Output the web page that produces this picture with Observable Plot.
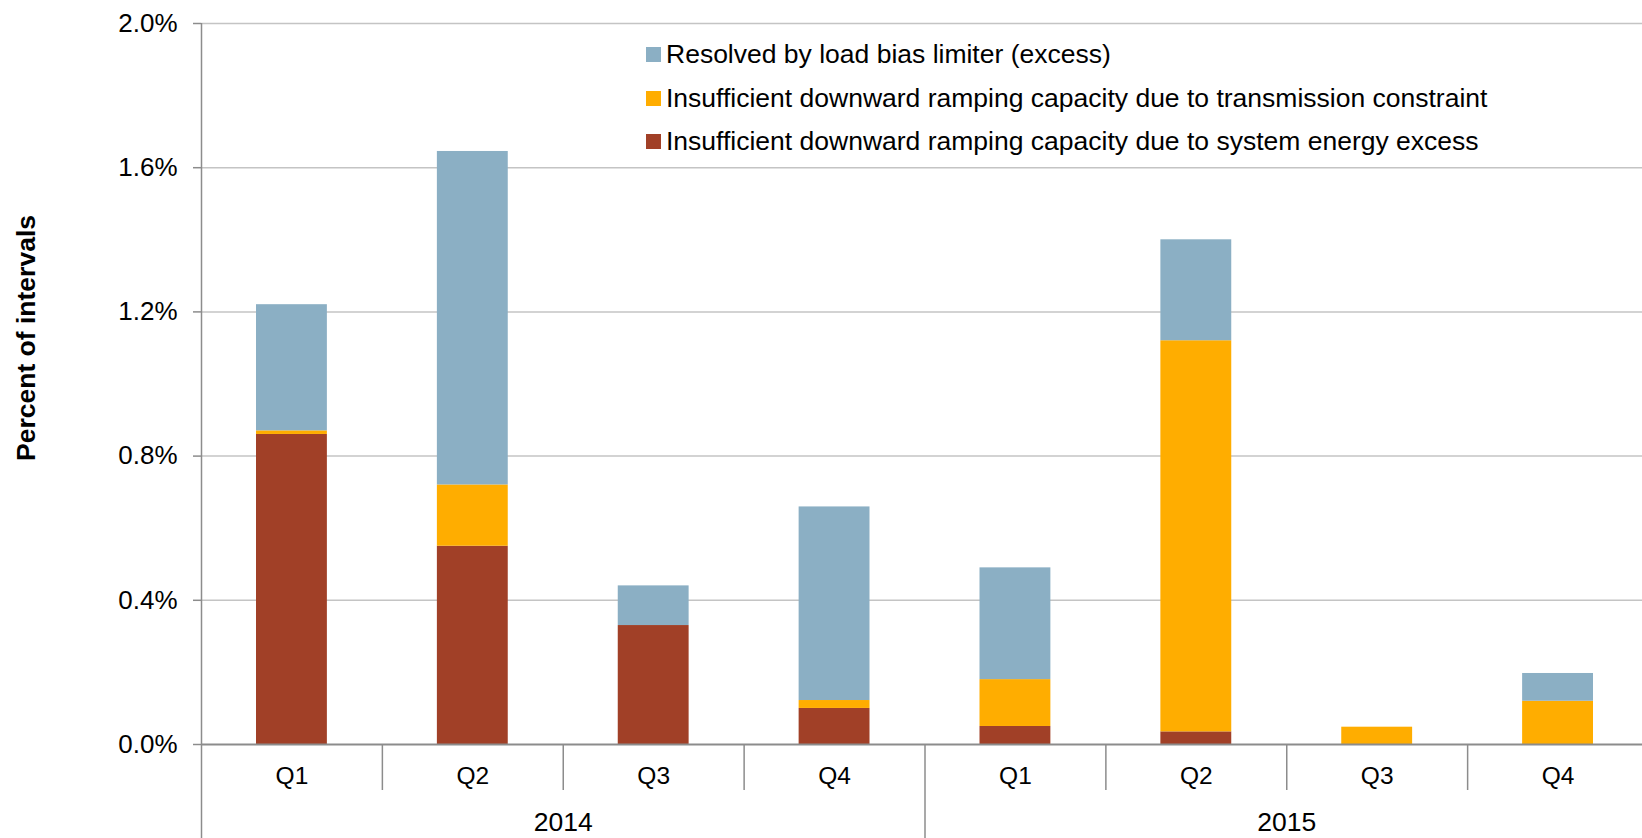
<!DOCTYPE html>
<html>
<head>
<meta charset="utf-8">
<script src="https://cdn.jsdelivr.net/npm/d3@7"></script>
<script src="https://cdn.jsdelivr.net/npm/@observablehq/plot@0.6"></script>
<style>
  html, body { margin: 0; padding: 0; background: #fff; }
  #wrap { position: relative; width: 1642px; height: 838px; font-family: "Liberation Sans", Arial, sans-serif; }
  #ylabel { position: absolute; left: 26px; top: 338px; transform: translate(-50%, -50%) rotate(-90deg); font-weight: bold; font-size: 26.5px; white-space: nowrap; color: #000; }
  #legend { position: absolute; left: 646px; top: 33px; font-size: 26.5px; color: #000; }
  .row { display: flex; align-items: center; height: 43.5px; white-space: nowrap; }
  .sw { width: 15px; height: 15px; margin-right: 5px; flex: none; }
</style>
</head>
<body>
<div id="wrap">
  <div id="chart"></div>
  <div id="ylabel"></div>
  <div id="legend"></div>
</div>
<script>
// ---- data ----
const quarters = ["Q1", "Q2", "Q3", "Q4", "Q1", "Q2", "Q3", "Q4"];
const years = ["2014", "2015"];
const seriesNames = [
  "Insufficient downward ramping capacity due to system energy excess",
  "Insufficient downward ramping capacity due to transmission constraint",
  "Resolved by load bias limiter (excess)"
];
const seriesColors = ["#a14027", "#ffad00", "#8bafc4"];
const systemExcess   = [0.86, 0.55, 0.33, 0.10, 0.05, 0.035, 0.0, 0.0];
const transmission   = [0.01, 0.17, 0.0, 0.022, 0.13, 1.085, 0.048, 0.12];
const loadBias       = [0.35, 0.925, 0.11, 0.537, 0.31, 0.28, 0.0, 0.077];
const yTicks = [0, 0.4, 0.8, 1.2, 1.6, 2.0];
const yLabel = "Percent of intervals";
const legendOrder = [2, 1, 0];

// ---- table ----
const seriesValues = [systemExcess, transmission, loadBias];
const table = [];
quarters.forEach((q, i) => {
  seriesValues.forEach((vals, s) => {
    table.push({i, quarter: q, year: years[Math.floor(i / 4)], series: seriesNames[s], value: vals[i]});
  });
});

const font = "'Liberation Sans', Arial, sans-serif";
const axisGray = "#8c8c8c";

const plot = Plot.plot({
  width: 1642,
  height: 838,
  marginTop: 23,
  marginBottom: 94,
  marginLeft: 201,
  marginRight: -6,
  style: {fontFamily: font, fontSize: "26px", color: "#000", background: "#fff"},
  x: {type: "linear", domain: [0, quarters.length]},
  y: {domain: [0, 2.0], label: null},
  color: {domain: seriesNames, range: seriesColors},
  marks: [
    Plot.gridY({ticks: yTicks.filter(t => t > 0), stroke: "#c4c4c4", strokeOpacity: 1, strokeWidth: 1.5}),
    Plot.rectY(table, Plot.stackY({
      x1: "i", x2: d => d.i + 1, y: "value", fill: "series",
      insetLeft: 55, insetRight: 55
    })),
    Plot.ruleY([0], {stroke: axisGray, strokeWidth: 2}),
    Plot.ruleX([0], {stroke: axisGray, strokeWidth: 1.5}),
    Plot.axisY({ticks: yTicks, tickFormat: d => d.toFixed(1) + "%", tickSize: 8, tickPadding: 16,
      label: null, fontSize: 26, stroke: axisGray, strokeWidth: 1.5}),
    // quarter dividers
    Plot.axisX({ticks: d3.range(1, quarters.length).filter(v => v % 4 !== 0), tickSize: 46,
      tickFormat: () => "", label: null, stroke: axisGray, strokeWidth: 1.5}),
    // year dividers
    Plot.axisX({ticks: d3.range(0, quarters.length + 1, 4), tickSize: 94,
      tickFormat: () => "", label: null, stroke: axisGray, strokeWidth: 1.5}),
    // quarter labels
    Plot.axisX({ticks: quarters.map((q, i) => i + 0.5), tickSize: 0, tickPadding: 22,
      tickFormat: v => quarters[Math.floor(v)], label: null, fontSize: 24.5}),
    // year labels
    Plot.axisX({ticks: years.map((y, j) => j * 4 + 2), tickSize: 0, tickPadding: 68,
      tickFormat: v => years[Math.floor(v / 4)], label: null, fontSize: 26.5})
  ]
});
document.getElementById("chart").appendChild(plot);

document.getElementById("ylabel").textContent = yLabel;
const legend = document.getElementById("legend");
legendOrder.forEach(s => {
  const row = document.createElement("div");
  row.className = "row";
  const sw = document.createElement("span");
  sw.className = "sw";
  sw.style.background = seriesColors[s];
  const t = document.createElement("span");
  t.textContent = seriesNames[s];
  row.appendChild(sw);
  row.appendChild(t);
  legend.appendChild(row);
});
</script>
</body>
</html>
